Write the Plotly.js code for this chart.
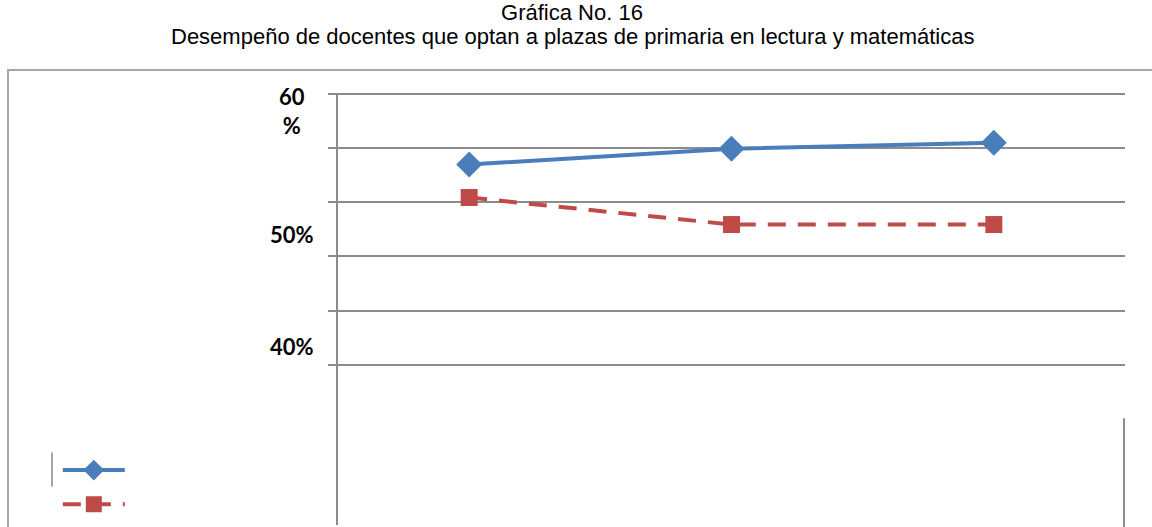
<!DOCTYPE html>
<html>
<head>
<meta charset="utf-8">
<script src="https://cdn.plot.ly/plotly-3.0.1.min.js"></script>
<style>html,body{margin:0;padding:0;background:#fff;}#chart{width:1152px;height:527px;}</style>
</head>
<body>
<div id="chart"></div>
<script>
// Data (percent)
const categories = ['1', '2', '3'];
const lectura = [53.5, 54.95, 55.5];
const matematicas = [50.45, 47.95, 47.95];
const gridValues = [35, 40, 45, 50, 55, 60];
const yLabelTexts = ['60<br>%', '50%', '40%'];
const yLabelPos = [58.4, 47.05, 36.65];
const titleLine1 = 'Gráfica No. 16';
const titleLine2 = 'Desempeño de docentes que optan a plazas de primaria en lectura y matemáticas';

const traces = [
  {
    x: categories, y: lectura, type: 'scatter', mode: 'lines+markers', name: '',
    line: {color: '#4A7EBB', width: 4},
    marker: {symbol: 'diamond', size: 20, color: '#4A7EBB'}
  },
  {
    x: categories, y: matematicas, type: 'scatter', mode: 'lines+markers', name: '',
    line: {color: '#BE4B48', width: 4, dash: '18px,12px'},
    marker: {symbol: 'square', size: 17, color: '#BE4B48'}
  }
];

const annotations = yLabelTexts.map((t, i) => ({
  text: t, xref: 'paper', yref: 'y', x: -0.0585, y: yLabelPos[i],
  xanchor: 'center', yanchor: 'middle', showarrow: false,
  font: {family: 'Lato, Noto Sans, sans-serif', size: 22, color: '#000', weight: 'bold'}
}));
annotations.push({
  text: titleLine2, xref: 'paper', yref: 'paper', x: (572 - 338) / 787, y: (527 - 36.5) / 434,
  xanchor: 'center', yanchor: 'middle', showarrow: false,
  font: {family: 'Liberation Sans, Arial, sans-serif', size: 22, color: '#000'}
});

const layout = {
  width: 1152, height: 527,
  margin: {l: 338, r: 27, t: 93, b: 0, pad: 0},
  paper_bgcolor: '#fff', plot_bgcolor: '#fff',
  title: {
    text: titleLine1,
    x: 572 / 1152, xref: 'container', xanchor: 'center', y: 1 - 12.5 / 527, yref: 'container', yanchor: 'middle',
    font: {family: 'Liberation Sans, Arial, sans-serif', size: 22, color: '#000'}
  },
  xaxis: {
    type: 'category', range: [-0.5, 2.5], showticklabels: false, showgrid: false,
    zeroline: false, showline: false, ticks: ''
  },
  yaxis: {
    range: [20.2, 60.1], tickvals: gridValues, showticklabels: false,
    showgrid: true, gridcolor: '#8c8c8c', gridwidth: 2,
    ticks: 'outside', ticklen: 8, tickwidth: 2, tickcolor: '#8c8c8c',
    showline: true, linecolor: '#8c8c8c', linewidth: 2, zeroline: false
  },
  showlegend: true,
  legend: {
    x: -0.356, y: 0.178, xanchor: 'left', yanchor: 'top',
    font: {size: 24}, bgcolor: 'rgba(0,0,0,0)', itemwidth: 62, tracegroupgap: 0
  },
  annotations: annotations,
  shapes: [
    {type: 'path', xref: 'paper', yref: 'paper',
     path: 'M -0.4193,-0.02 L -0.4193,1.053 L 1.1,1.053',
     line: {color: '#a6a6a6', width: 2}},
    {type: 'line', xref: 'paper', yref: 'paper', x0: 0.9987, x1: 0.9987, y0: -0.02, y1: 0.247,
     line: {color: '#8c8c8c', width: 2}},
    {type: 'line', xref: 'paper', yref: 'paper', x0: -0.3634, x1: -0.3634, y0: 0.089, y1: 0.168,
     line: {color: '#a6a6a6', width: 2}}
  ]
};

Plotly.newPlot('chart', traces, layout, {displayModeBar: false, staticPlot: true});
</script>
</body>
</html>
